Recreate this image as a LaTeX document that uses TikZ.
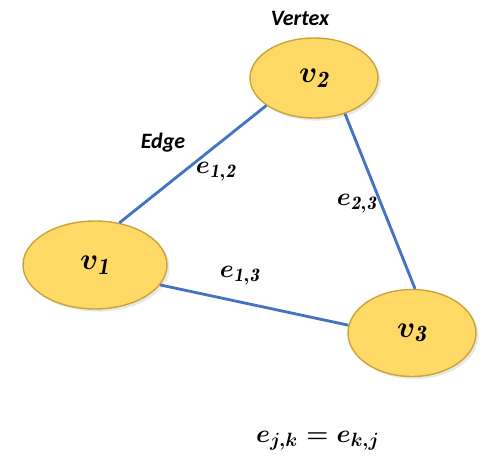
\documentclass[tikz,border=0pt]{standalone}
\usepackage{amsmath,amssymb}
\usepackage{fontspec}
\usepackage{xcolor}
\usepackage{tikz}
\usetikzlibrary{shapes.geometric,shadows}
\newfontfamily\carlito{Carlito}
\definecolor{VXFill}{HTML}{FFD966}
\definecolor{VXLine}{HTML}{C9A43A}
\definecolor{EGBlue}{HTML}{4472C4}

\begin{document}
\begin{tikzpicture}[
        x=0.02cm,y=-0.02cm,
        vertex/.style={ellipse,draw=VXLine,thick,fill=VXFill,inner sep=0pt,
          drop shadow={opacity=0.18,shadow xshift=1.5pt,shadow yshift=-1.5pt},
          font=\fontsize{19}{22}\selectfont\boldmath},
        edge/.style={draw=EGBlue,line width=1.6pt},
        tag/.style={font=\carlito\fontsize{12.5}{14}\selectfont\bfseries\itshape},
        weight/.style={font=\fontsize{15.5}{18}\selectfont\boldmath}
      ]
      \useasboundingbox (0,0) rectangle (480,465);
      \node[vertex,minimum width=2.56cm,minimum height=1.6cm] (v2) at (314,78) {$v_{\mathit{2}}$};
      \node[vertex,minimum width=2.88cm,minimum height=1.76cm] (v1) at (95,265) {$v_{\mathit{1}}$};
      \node[vertex,minimum width=2.56cm,minimum height=1.74cm] (v3) at (412,333) {$v_{\mathit{3}}$};

      \draw[edge] (v1.60) -- (v2.210);
      \draw[edge] (v2.311) -- (v3.86);
      \draw[edge] (v1.343) -- (v3.173);

      \node[tag] (vtx) at (300,18) {Vertex};
      \node[tag] (edg) at (163,143) {Edge};
      \node[weight] (e12) at (216,172) {$e_{\mathit{1,2}}$};
      \node[weight] (e23) at (357,204) {$e_{\mathit{2,3}}$};
      \node[weight] (e13) at (240,276) {$e_{\mathit{1,3}}$};
      \node[weight] (eq) at (318,441) {$e_{j,k}=e_{k,j}$};
    \end{tikzpicture}
\end{document}
